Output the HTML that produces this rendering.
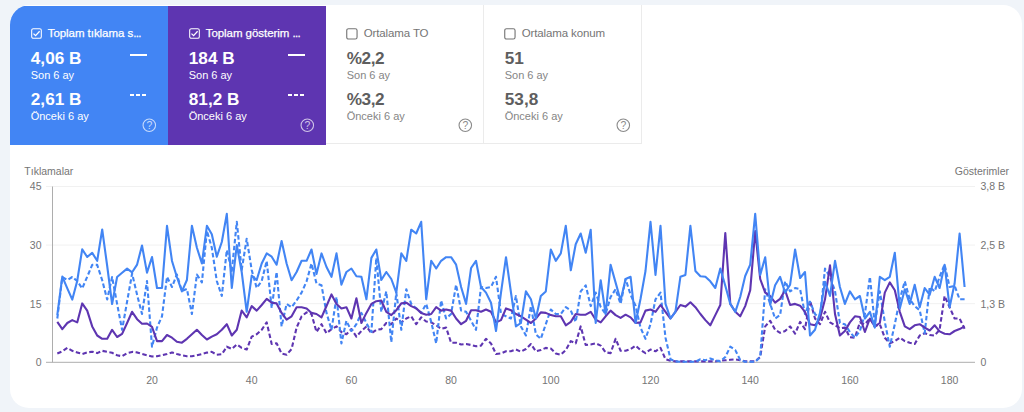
<!DOCTYPE html>
<html lang="tr"><head><meta charset="utf-8"><title>Performans</title>
<style>
html,body{margin:0;padding:0}
body{width:1024px;height:412px;overflow:hidden;background:#f0f4f9;font-family:"Liberation Sans",sans-serif;position:relative}
.card{position:absolute;left:9.8px;top:5.3px;width:1012.4px;height:403.1px;background:#fff;border-radius:19px}
.tile{position:absolute;top:5px;width:158px;height:139.6px;box-sizing:border-box;color:#fff}
.tile span,.tile svg,.tile i{position:absolute;white-space:nowrap;line-height:1}
.blue{background:linear-gradient(to bottom,transparent 0.5px,#4285f4 0.5px);border-top-left-radius:20px}
.purple{background:linear-gradient(to bottom,transparent 0.8px,#5e35b1 0.8px)}
.w3,.w4{color:#5f6368;border-bottom:1px solid #ebebeb;border-right:1px solid #ebebeb;height:139.3px}
.cb{left:21px;top:23.2px;width:11px;height:11px}
.w3 .cb,.w4 .cb{color:#757575;left:20.3px;top:22.8px;width:11.8px;height:11.8px}
.t{left:37.7px;top:22.5px;font-size:11.5px;letter-spacing:-0.05px;-webkit-text-stroke:0.25px currentColor}
.el{font-weight:normal;letter-spacing:-0.7px}
.w3 .t,.w4 .t{color:#757575;-webkit-text-stroke:0;letter-spacing:-0.12px}
.v{left:20.8px;font-size:17.2px;font-weight:bold}
.w3 .v{letter-spacing:-0.5px}
.w3 .v,.w4 .v{color:#5e5e5e}
.v1{top:45.1px}
.v2{top:86.1px}
.s{left:20.7px;font-size:11px}
.w3 .s,.w4 .s{color:#858585}
.s1{top:64.8px}
.s2{top:105.5px}
.solid{left:120px;top:48.7px;width:17px;height:2px;background:#fff}
.dash{top:88.9px;width:4px;height:2px;background:#fff}
.d1{left:120px}.d2{left:126.1px}.d3{left:132.2px}
.help{left:132.4px;top:113px;width:14.6px;height:14.6px;opacity:.7}
.w3 .help,.w4 .help{color:#8a8a8a;opacity:1}
.chart{position:absolute;left:0;top:0;font-family:"Liberation Sans",sans-serif}
</style></head><body>
<div class="card"></div>
<div class="tile blue" style="left:10px"><svg class="cb" viewBox="0 0 12 12"><rect x="0.75" y="0.75" width="10.5" height="10.5" rx="1.8" fill="none" stroke="currentColor" stroke-width="1.15"/><path d="M2.7 6.1 L5 8.3 L9.4 3.6" fill="none" stroke="currentColor" stroke-width="1.4"/></svg><span class="t">Toplam tıklama s<b class="el">...</b></span>
<span class="v v1">4,06 B</span><span class="s s1">Son 6 ay</span>
<span class="v v2">2,61 B</span><span class="s s2">Önceki 6 ay</span><i class="solid"></i><i class="dash d1"></i><i class="dash d2"></i><i class="dash d3"></i><svg class="help" viewBox="0 0 14 14"><circle cx="7" cy="7" r="6" fill="none" stroke="currentColor" stroke-width="1.05"/><text x="7" y="10.5" text-anchor="middle" font-size="10" fill="currentColor">?</text></svg></div><div class="tile purple" style="left:168px"><svg class="cb" viewBox="0 0 12 12"><rect x="0.75" y="0.75" width="10.5" height="10.5" rx="1.8" fill="none" stroke="currentColor" stroke-width="1.15"/><path d="M2.7 6.1 L5 8.3 L9.4 3.6" fill="none" stroke="currentColor" stroke-width="1.4"/></svg><span class="t">Toplam gösterim <b class="el">...</b></span>
<span class="v v1">184 B</span><span class="s s1">Son 6 ay</span>
<span class="v v2">81,2 B</span><span class="s s2">Önceki 6 ay</span><i class="solid"></i><i class="dash d1"></i><i class="dash d2"></i><i class="dash d3"></i><svg class="help" viewBox="0 0 14 14"><circle cx="7" cy="7" r="6" fill="none" stroke="currentColor" stroke-width="1.05"/><text x="7" y="10.5" text-anchor="middle" font-size="10" fill="currentColor">?</text></svg></div><div class="tile w3" style="left:326px"><svg class="cb" viewBox="0 0 12 12"><rect x="0.75" y="0.75" width="10.5" height="10.5" rx="1.8" fill="none" stroke="currentColor" stroke-width="1.15"/></svg><span class="t">Ortalama TO</span>
<span class="v v1">%2,2</span><span class="s s1">Son 6 ay</span>
<span class="v v2">%3,2</span><span class="s s2">Önceki 6 ay</span><svg class="help" viewBox="0 0 14 14"><circle cx="7" cy="7" r="6" fill="none" stroke="currentColor" stroke-width="1.05"/><text x="7" y="10.5" text-anchor="middle" font-size="10" fill="currentColor">?</text></svg></div><div class="tile w4" style="left:484px"><svg class="cb" viewBox="0 0 12 12"><rect x="0.75" y="0.75" width="10.5" height="10.5" rx="1.8" fill="none" stroke="currentColor" stroke-width="1.15"/></svg><span class="t">Ortalama konum</span>
<span class="v v1">51</span><span class="s s1">Son 6 ay</span>
<span class="v v2">53,8</span><span class="s s2">Önceki 6 ay</span><svg class="help" viewBox="0 0 14 14"><circle cx="7" cy="7" r="6" fill="none" stroke="currentColor" stroke-width="1.05"/><text x="7" y="10.5" text-anchor="middle" font-size="10" fill="currentColor">?</text></svg></div>
<svg class="chart" width="1024" height="412" viewBox="0 0 1024 412">
<g font-size="10.5" fill="#757575">
<text x="24.3" y="175.2">Tıklamalar</text>
<text x="1009" y="175.2" text-anchor="end">Gösterimler</text>
<text x="41.5" y="190.4" text-anchor="end">45</text><text x="41.5" y="249.0" text-anchor="end">30</text><text x="41.5" y="307.59999999999997" text-anchor="end">15</text><text x="41.5" y="366.2" text-anchor="end">0</text><text x="980.5" y="190.4">3,8 B</text><text x="980.5" y="249.0">2,5 B</text><text x="980.5" y="307.59999999999997">1,3 B</text><text x="980.5" y="366.2">0</text><text x="152.0" y="384" text-anchor="middle">20</text><text x="251.7" y="384" text-anchor="middle">40</text><text x="351.4" y="384" text-anchor="middle">60</text><text x="451.1" y="384" text-anchor="middle">80</text><text x="550.8" y="384" text-anchor="middle">100</text><text x="650.5" y="384" text-anchor="middle">120</text><text x="750.2" y="384" text-anchor="middle">140</text><text x="849.9" y="384" text-anchor="middle">160</text><text x="949.6" y="384" text-anchor="middle">180</text>
</g>
<line x1="46" x2="975" y1="186.5" y2="186.5" stroke="#f1f1f1" stroke-width="1"/><line x1="46" x2="975" y1="245.1" y2="245.1" stroke="#f1f1f1" stroke-width="1"/><line x1="46" x2="975" y1="303.7" y2="303.7" stroke="#f1f1f1" stroke-width="1"/>
<line x1="46" x2="975" y1="362.3" y2="362.3" stroke="#adadad" stroke-width="1"/>
<line x1="52.5" x2="52.5" y1="186.5" y2="362.3" stroke="#adadad" stroke-width="1"/>
<g fill="none" stroke-width="2.1" stroke-linejoin="round">
<path d="M57.3 353.5 L62.3 351.3 L67.3 347.9 L72.3 350.8 L77.2 352.4 L82.2 354.0 L87.2 352.4 L92.2 351.7 L97.2 353.1 L102.2 350.8 L107.2 351.9 L112.1 352.8 L117.1 355.3 L122.1 356.2 L127.1 353.1 L132.1 351.9 L137.1 352.4 L142.0 354.0 L147.0 355.3 L152.0 356.5 L157.0 356.2 L162.0 355.3 L167.0 354.0 L172.0 352.4 L176.9 354.0 L181.9 355.3 L186.9 356.2 L191.9 356.2 L196.9 355.3 L201.9 354.0 L206.9 352.6 L211.8 351.9 L216.8 354.7 L221.8 354.2 L226.8 346.7 L231.8 349.0 L236.8 344.5 L241.7 347.9 L246.7 349.5 L251.7 336.6 L256.7 334.3 L261.7 329.8 L266.7 322.4 L271.7 344.0 L276.6 343.2 L281.6 353.5 L286.6 354.7 L291.6 349.0 L296.6 327.6 L301.6 316.3 L306.6 312.4 L311.5 314.0 L316.5 332.0 L321.5 324.2 L326.5 333.2 L331.5 329.1 L336.5 326.4 L341.4 332.0 L346.4 334.3 L351.4 329.1 L356.4 336.6 L361.4 331.0 L366.4 326.4 L371.4 333.2 L376.3 329.8 L381.3 329.1 L386.3 323.0 L391.3 324.2 L396.3 318.5 L401.3 322.4 L406.3 318.5 L411.2 316.3 L416.2 324.2 L421.2 317.4 L426.2 321.5 L431.2 322.4 L436.2 325.3 L441.1 328.7 L446.1 327.6 L451.1 342.7 L456.1 342.7 L461.1 344.5 L466.1 344.0 L471.1 345.0 L476.0 346.3 L481.0 345.6 L486.0 338.8 L491.0 343.4 L496.0 354.0 L501.0 353.5 L506.0 351.3 L510.9 351.3 L515.9 349.5 L520.9 351.7 L525.9 349.0 L530.9 344.0 L535.9 351.3 L540.8 350.1 L545.8 347.9 L550.8 348.6 L555.8 353.5 L560.8 354.7 L565.8 350.1 L570.8 341.1 L575.7 343.4 L580.7 326.4 L585.7 345.0 L590.7 344.5 L595.7 343.4 L600.7 345.6 L605.6 352.4 L610.6 353.1 L615.6 338.8 L620.6 350.8 L625.6 350.8 L630.6 349.0 L635.6 345.6 L640.5 350.1 L645.5 353.1 L650.5 349.5 L655.5 351.3 L660.5 347.9 L665.5 359.2 L670.5 360.7 L675.4 361.4 L680.4 361.4 L685.4 361.4 L690.4 361.4 L695.4 361.4 L700.4 361.4 L705.4 361.4 L710.3 361.4 L715.3 361.4 L720.3 360.7 L725.3 360.3 L730.3 359.8 L735.3 359.4 L740.2 360.3 L745.2 361.4 L750.2 361.4 L755.2 361.4 L760.2 357.0 L765.2 326.4 L770.2 320.8 L775.1 329.8 L780.1 332.8 L785.1 331.0 L790.1 326.4 L795.1 333.7 L800.1 321.9 L805.0 329.1 L810.0 300.5 L815.0 318.5 L820.0 324.2 L825.0 311.8 L830.0 322.4 L835.0 325.3 L839.9 328.2 L844.9 327.6 L849.9 337.3 L854.9 337.7 L859.9 322.4 L864.9 324.2 L869.9 318.5 L874.8 326.4 L879.8 324.2 L884.8 337.7 L889.8 343.4 L894.8 341.1 L899.8 337.7 L904.8 341.1 L909.7 342.7 L914.7 344.0 L919.7 335.5 L924.7 333.2 L929.7 335.0 L934.7 335.5 L939.6 329.8 L944.6 296.0 L949.6 307.2 L954.6 318.5 L959.6 318.5 L964.6 328.7" stroke="#5e35b1" stroke-dasharray="4.5 2.5"/>
<path d="M57.3 318.5 L62.3 277.0 L67.3 280.0 L72.3 277.0 L77.2 281.0 L82.2 288.5 L87.2 276.8 L92.2 264.9 L97.2 264.9 L102.2 280.3 L107.2 299.5 L112.1 277.0 L117.1 303.9 L122.1 329.8 L127.1 301.6 L132.1 273.5 L137.1 294.8 L142.0 314.0 L147.0 281.0 L152.0 346.7 L157.0 327.6 L162.0 316.3 L167.0 276.8 L172.0 287.0 L176.9 274.5 L181.9 291.0 L186.9 289.0 L191.9 314.0 L196.9 274.5 L201.9 282.4 L206.9 230.8 L211.8 247.7 L216.8 281.0 L221.8 296.0 L226.8 250.0 L231.8 271.0 L236.8 221.8 L241.7 270.0 L246.7 238.7 L251.7 270.0 L256.7 288.0 L261.7 281.0 L266.7 261.0 L271.7 308.0 L276.6 272.0 L281.6 326.4 L286.6 303.9 L291.6 307.2 L296.6 300.5 L301.6 292.6 L306.6 281.3 L311.5 263.5 L316.5 283.5 L321.5 285.3 L326.5 312.9 L331.5 329.8 L336.5 297.0 L341.4 343.4 L346.4 320.8 L351.4 331.0 L356.4 324.2 L361.4 312.9 L366.4 323.0 L371.4 332.0 L376.3 258.0 L381.3 311.8 L386.3 291.4 L391.3 342.2 L396.3 292.6 L401.3 329.8 L406.3 289.2 L411.2 303.9 L416.2 308.4 L421.2 312.9 L426.2 303.9 L431.2 321.9 L436.2 343.4 L441.1 300.5 L446.1 318.5 L451.1 314.0 L456.1 284.7 L461.1 310.6 L466.1 311.8 L471.1 320.8 L476.0 329.8 L481.0 287.0 L486.0 288.0 L491.0 287.0 L496.0 276.8 L501.0 314.0 L506.0 316.3 L510.9 318.5 L515.9 296.0 L520.9 326.4 L525.9 335.5 L530.9 306.1 L535.9 334.3 L540.8 338.8 L545.8 324.2 L550.8 309.5 L555.8 314.0 L560.8 314.0 L565.8 307.2 L570.8 310.6 L575.7 321.9 L580.7 291.4 L585.7 285.3 L590.7 306.1 L595.7 292.6 L600.7 307.0 L605.6 314.0 L610.6 297.0 L615.6 289.2 L620.6 303.9 L625.6 279.0 L630.6 294.8 L635.6 306.0 L640.5 327.6 L645.5 338.8 L650.5 324.2 L655.5 299.3 L660.5 292.6 L665.5 337.7 L670.5 359.2 L675.4 361.4 L680.4 361.8 L685.4 361.8 L690.4 361.8 L695.4 361.8 L700.4 359.2 L705.4 360.3 L710.3 358.5 L715.3 360.3 L720.3 361.4 L725.3 357.0 L730.3 346.7 L735.3 350.1 L740.2 360.0 L745.2 361.8 L750.2 361.8 L755.2 361.8 L760.2 357.0 L765.2 289.2 L770.2 303.9 L775.1 318.5 L780.1 315.1 L785.1 281.3 L790.1 291.4 L795.1 288.0 L800.1 289.2 L805.0 314.0 L810.0 301.6 L815.0 314.0 L820.0 318.5 L825.0 268.6 L830.0 277.0 L835.0 291.0 L839.9 323.0 L844.9 324.2 L849.9 332.0 L854.9 337.7 L859.9 331.0 L864.9 314.0 L869.9 276.8 L874.8 324.2 L879.8 291.4 L884.8 321.9 L889.8 346.7 L894.8 324.2 L899.8 299.3 L904.8 281.3 L909.7 299.3 L914.7 306.1 L919.7 310.2 L924.7 333.2 L929.7 287.0 L934.7 291.4 L939.6 276.8 L944.6 264.5 L949.6 287.0 L954.6 285.8 L959.6 299.3 L964.6 299.3" stroke="#4285f4" stroke-dasharray="4.5 2.5"/>
<path d="M57.3 321.9 L62.3 329.1 L67.3 323.0 L72.3 320.1 L77.2 322.4 L82.2 303.4 L87.2 310.6 L92.2 326.4 L97.2 335.5 L102.2 338.8 L107.2 338.8 L112.1 329.8 L117.1 337.0 L122.1 333.9 L127.1 323.0 L132.1 311.8 L137.1 319.2 L142.0 323.7 L147.0 323.5 L152.0 326.9 L157.0 341.1 L162.0 341.1 L167.0 335.0 L172.0 337.7 L176.9 341.8 L181.9 342.7 L186.9 338.8 L191.9 334.3 L196.9 329.8 L201.9 335.0 L206.9 339.5 L211.8 336.6 L216.8 334.3 L221.8 329.8 L226.8 324.2 L231.8 335.5 L236.8 329.8 L241.7 310.6 L246.7 317.4 L251.7 306.1 L256.7 310.6 L261.7 305.0 L266.7 298.9 L271.7 302.7 L276.6 303.4 L281.6 312.9 L286.6 319.7 L291.6 316.3 L296.6 307.2 L301.6 307.2 L306.6 308.4 L311.5 312.9 L316.5 314.0 L321.5 317.4 L326.5 306.0 L331.5 294.4 L336.5 303.9 L341.4 308.4 L346.4 307.2 L351.4 318.5 L356.4 298.2 L361.4 323.0 L366.4 312.9 L371.4 303.9 L376.3 301.2 L381.3 300.5 L386.3 311.8 L391.3 315.1 L396.3 310.2 L401.3 303.4 L406.3 302.7 L411.2 306.1 L416.2 308.4 L421.2 312.9 L426.2 314.7 L431.2 314.0 L436.2 307.2 L441.1 310.6 L446.1 309.5 L451.1 310.6 L456.1 318.5 L461.1 324.2 L466.1 320.8 L471.1 310.2 L476.0 310.2 L481.0 311.8 L486.0 309.5 L491.0 311.8 L496.0 322.4 L501.0 320.1 L506.0 308.4 L510.9 310.2 L515.9 314.0 L520.9 316.3 L525.9 319.7 L530.9 323.0 L535.9 318.5 L540.8 312.4 L545.8 312.9 L550.8 315.1 L555.8 316.3 L560.8 316.3 L565.8 325.3 L570.8 321.9 L575.7 314.0 L580.7 314.7 L585.7 314.7 L590.7 311.8 L595.7 319.7 L600.7 322.4 L605.6 316.3 L610.6 310.6 L615.6 315.1 L620.6 317.9 L625.6 314.7 L630.6 317.4 L635.6 323.0 L640.5 322.4 L645.5 310.6 L650.5 309.5 L655.5 311.8 L660.5 305.0 L665.5 311.8 L670.5 318.5 L675.4 311.8 L680.4 305.0 L685.4 306.6 L690.4 302.3 L695.4 307.2 L700.4 314.0 L705.4 320.1 L710.3 325.3 L715.3 315.1 L720.3 305.0 L725.3 233.0 L730.3 303.9 L735.3 311.8 L740.2 316.3 L745.2 306.1 L750.2 290.3 L755.2 231.0 L760.2 279.0 L765.2 292.6 L770.2 296.0 L775.1 302.7 L780.1 298.9 L785.1 290.3 L790.1 305.0 L795.1 303.9 L800.1 305.7 L805.0 311.8 L810.0 324.2 L815.0 325.3 L820.0 318.5 L825.0 299.3 L830.0 265.3 L835.0 314.0 L839.9 335.5 L844.9 331.0 L849.9 322.4 L854.9 316.3 L859.9 317.0 L864.9 332.0 L869.9 318.5 L874.8 326.4 L879.8 323.0 L884.8 292.6 L889.8 282.4 L894.8 290.3 L899.8 311.8 L904.8 326.4 L909.7 329.1 L914.7 325.3 L919.7 324.2 L924.7 327.6 L929.7 330.5 L934.7 325.3 L939.6 331.4 L944.6 333.7 L949.6 334.3 L954.6 331.0 L959.6 329.1 L964.6 326.4" stroke="#5e35b1"/>
<path d="M57.3 315.0 L62.3 276.6 L67.3 288.4 L72.3 299.6 L77.2 281.0 L82.2 249.3 L87.2 257.0 L92.2 252.9 L97.2 260.8 L102.2 229.5 L107.2 266.0 L112.1 304.0 L117.1 277.0 L122.1 272.8 L127.1 268.6 L132.1 272.3 L137.1 264.6 L142.0 245.5 L147.0 272.6 L152.0 257.0 L157.0 288.0 L162.0 288.0 L167.0 225.8 L172.0 261.0 L176.9 277.0 L181.9 291.4 L186.9 280.0 L191.9 225.8 L196.9 247.7 L201.9 263.5 L206.9 225.8 L211.8 234.2 L216.8 256.7 L221.8 242.0 L226.8 213.9 L231.8 288.0 L236.8 245.0 L241.7 272.0 L246.7 311.8 L251.7 275.6 L256.7 280.0 L261.7 263.5 L266.7 253.4 L271.7 256.7 L276.6 264.7 L281.6 241.0 L286.6 263.5 L291.6 280.2 L296.6 272.0 L301.6 260.8 L306.6 260.8 L311.5 249.5 L316.5 274.0 L321.5 253.4 L326.5 267.0 L331.5 276.8 L336.5 253.4 L341.4 284.7 L346.4 272.0 L351.4 268.5 L356.4 276.3 L361.4 276.8 L366.4 299.3 L371.4 257.9 L376.3 249.5 L381.3 280.0 L386.3 272.0 L391.3 279.0 L396.3 292.6 L401.3 253.4 L406.3 260.8 L411.2 229.7 L416.2 233.5 L421.2 221.8 L426.2 299.3 L431.2 260.8 L436.2 268.5 L441.1 260.8 L446.1 257.2 L451.1 257.2 L456.1 264.7 L461.1 287.0 L466.1 303.9 L471.1 268.0 L476.0 260.8 L481.0 287.0 L486.0 292.6 L491.0 302.7 L496.0 331.0 L501.0 292.6 L506.0 257.2 L510.9 292.0 L515.9 326.4 L520.9 323.0 L525.9 291.4 L530.9 299.3 L535.9 318.5 L540.8 296.0 L545.8 291.4 L550.8 249.5 L555.8 260.8 L560.8 253.4 L565.8 225.8 L570.8 270.3 L575.7 244.3 L580.7 233.5 L585.7 252.7 L590.7 229.7 L595.7 323.0 L600.7 280.2 L605.6 314.0 L610.6 264.7 L615.6 282.6 L620.6 300.5 L625.6 279.0 L630.6 276.8 L635.6 323.0 L640.5 299.0 L645.5 271.0 L650.5 221.8 L655.5 275.0 L660.5 225.8 L665.5 303.9 L670.5 318.5 L675.4 311.8 L680.4 276.8 L685.4 275.0 L690.4 225.8 L695.4 271.0 L700.4 276.3 L705.4 276.8 L710.3 281.3 L715.3 288.0 L720.3 268.5 L725.3 285.8 L730.3 303.9 L735.3 311.8 L740.2 297.0 L745.2 276.0 L750.2 264.7 L755.2 213.9 L760.2 275.0 L765.2 257.2 L770.2 305.0 L775.1 285.3 L780.1 276.8 L785.1 292.6 L790.1 284.7 L795.1 249.5 L800.1 278.0 L805.0 272.0 L810.0 335.5 L815.0 329.8 L820.0 312.9 L825.0 281.7 L830.0 295.9 L835.0 260.8 L839.9 287.0 L844.9 303.9 L849.9 291.4 L854.9 299.3 L859.9 296.0 L864.9 318.5 L869.9 311.8 L874.8 327.6 L879.8 276.8 L884.8 280.2 L889.8 276.8 L894.8 252.7 L899.8 308.4 L904.8 289.2 L909.7 303.9 L914.7 284.7 L919.7 307.2 L924.7 288.0 L929.7 294.8 L934.7 276.8 L939.6 288.0 L944.6 264.7 L949.6 307.2 L954.6 283.5 L959.6 233.5 L964.6 287.0" stroke="#4285f4"/>
</g>
</svg>
</body></html>
